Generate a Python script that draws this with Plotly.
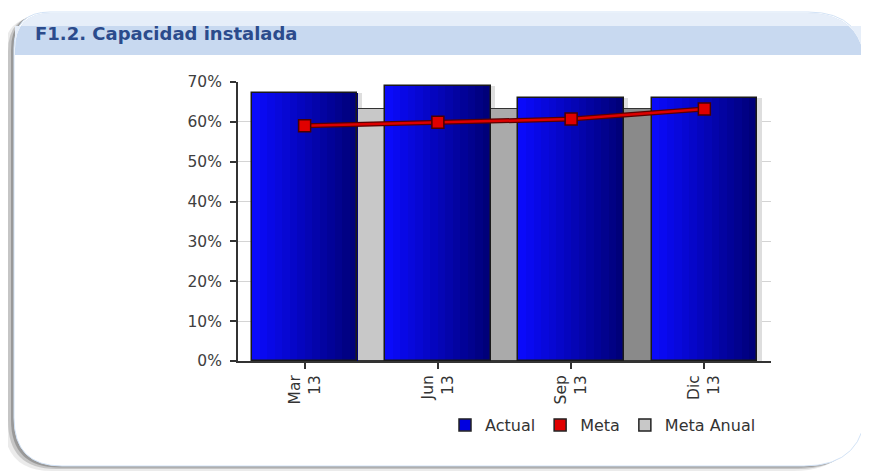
import plotly.graph_objects as go

# ---------------- data ----------------
categories = ["Mar<br>13", "Jun<br>13", "Sep<br>13", "Dic<br>13"]
actual = [0.672, 0.690, 0.660, 0.660]
meta = [0.590, 0.599, 0.607, 0.632]
meta_anual = [0.632, 0.632, 0.632]
meta_anual_colors = ["#c8c8c8", "#aaaaaa", "#8a8a8a"]
y_ticks = [0, 0.1, 0.2, 0.3, 0.4, 0.5, 0.6, 0.7]
title_text = "F1.2. Capacidad instalada"

# page body has an 8px margin: work in window pixels and shift
OFF = 8
W, H = 869 - OFF, 472 - OFF
L, R, T, B = 238 - OFF, 771 - OFF, 82 - OFF, 361 - OFF
xpos = list(range(len(categories)))


def px(x):
    return (x - OFF - L) / (R - L)


def py(y):
    return (B - (y - OFF)) / (B - T)


def rounded_path(x0, y0, x1, y1, rtl, rtr, rbr, rbl, dx=0, dy=0):
    x0 += dx; x1 += dx; y0 += dy; y1 += dy
    pts = []
    pts.append(f"M {px(x0)},{py(y0 + rtl)}")
    pts.append(f"Q {px(x0)},{py(y0)} {px(x0 + rtl)},{py(y0)}")
    pts.append(f"L {px(x1 - rtr)},{py(y0)}")
    pts.append(f"Q {px(x1)},{py(y0)} {px(x1)},{py(y0 + rtr)}")
    pts.append(f"L {px(x1)},{py(y1 - rbr)}")
    pts.append(f"Q {px(x1)},{py(y1)} {px(x1 - rbr)},{py(y1)}")
    pts.append(f"L {px(x0 + rbl)},{py(y1)}")
    pts.append(f"Q {px(x0)},{py(y1)} {px(x0)},{py(y1 - rbl)}")
    pts.append("Z")
    return " ".join(pts)


def top_path(x0, y0, x1, y1, rtl, rtr):
    pts = [f"M {px(x0)},{py(y1)}",
           f"L {px(x0)},{py(y0 + rtl)}",
           f"Q {px(x0)},{py(y0)} {px(x0 + rtl)},{py(y0)}",
           f"L {px(x1 - rtr)},{py(y0)}",
           f"Q {px(x1)},{py(y0)} {px(x1)},{py(y0 + rtr)}",
           f"L {px(x1)},{py(y1)}", "Z"]
    return " ".join(pts)


PX0, PY0, PX1, PY1 = 14, 12, 866, 466
RTL, RTR, RBR, RBL = 36, 58, 62, 48

shapes = [
    dict(type="path", xref="paper", yref="paper", layer="below",
         path=rounded_path(PX0, PY0, PX1, PY1, RTL, RTR, RBR, RBL, dx=-10, dy=5),
         fillcolor="rgba(0,0,0,0.08)", line=dict(width=0)),
    dict(type="path", xref="paper", yref="paper", layer="below",
         path=rounded_path(PX0, PY0, PX1, PY1, RTL, RTR, RBR, RBL, dx=-6, dy=3),
         fillcolor="rgba(0,0,0,0.16)", line=dict(width=0)),
    dict(type="path", xref="paper", yref="paper", layer="below",
         path=rounded_path(PX0, PY0, PX1, PY1, RTL, RTR, RBR, RBL, dx=-3, dy=1.5),
         fillcolor="rgba(0,0,0,0.22)", line=dict(width=0)),
    dict(type="path", xref="paper", yref="paper", layer="below",
         path=rounded_path(PX0, PY0, PX1, PY1, RTL, RTR, RBR, RBL),
         fillcolor="white", line=dict(color="#d3e3f6", width=1)),
    dict(type="path", xref="paper", yref="paper", layer="below",
         path=top_path(PX0 + 1, PY0 + 1, PX1 - 1, 55, RTL, RTR),
         fillcolor="#c8d9f0", line=dict(width=0)),
    dict(type="path", xref="paper", yref="paper", layer="below",
         path=top_path(PX0 + 1, PY0 + 1, PX1 - 1, 26, RTL, RTR),
         fillcolor="#e6eef9", line=dict(width=0)),
]

fig = go.Figure()

# shadow of Actual bars
fig.add_trace(go.Bar(x=xpos, y=actual, width=0.79, offset=-0.395 + 0.035,
                     marker=dict(color="#dedede", line=dict(width=0)),
                     showlegend=False, hoverinfo="skip"))

# Meta Anual bars (behind, between categories)
fig.add_trace(go.Bar(x=xpos[:len(meta_anual)], y=meta_anual, width=0.24, offset=0.38,
                     marker=dict(color=meta_anual_colors, line=dict(color="#333333", width=1)),
                     showlegend=False, name="Meta Anual"))

# Actual bars with horizontal gradient (slices)
N = 14
bw = 0.79
c0 = (10, 10, 250)
c1 = (0, 0, 122)
for i in range(N):
    t = i / (N - 1)
    col = "rgb(%d,%d,%d)" % tuple(round(c0[k] + (c1[k] - c0[k]) * t) for k in range(3))
    fig.add_trace(go.Bar(x=xpos, y=actual, width=bw / N + 0.002, offset=-bw / 2 + i * bw / N,
                         marker=dict(color=col, line=dict(width=0)),
                         showlegend=False, hoverinfo="skip"))
# outline
fig.add_trace(go.Bar(x=xpos, y=actual, width=bw, offset=-bw / 2,
                     marker=dict(color="rgba(0,0,0,0)", line=dict(color="#1a1a1a", width=1.5)),
                     showlegend=False, name="Actual"))

# Meta line (dark outline under red line)
fig.add_trace(go.Scatter(x=xpos, y=meta, mode="lines",
                         line=dict(color="#5a0000", width=5), showlegend=False, hoverinfo="skip"))
fig.add_trace(go.Scatter(x=xpos, y=meta, mode="lines+markers",
                         line=dict(color="#dd0000", width=2.5),
                         marker=dict(symbol="square", size=12, color="#e00000",
                                     line=dict(color="#4a0000", width=1.5)),
                         showlegend=False, name="Meta"))

# legend entries
for nm, col in [("Actual", "#0000e0"), ("Meta", "#e00000"), ("Meta Anual", "#c8c8c8")]:
    fig.add_trace(go.Bar(x=[None], y=[None], name=nm,
                         marker=dict(color=col, line=dict(color="#222222", width=1.5))))

fig.update_layout(
    width=W, height=H, autosize=False,
    margin=dict(l=L, r=W - R, t=T, b=H - B, pad=0),
    paper_bgcolor="white", plot_bgcolor="rgba(0,0,0,0)",
    barmode="overlay", bargap=0,
    font=dict(family="DejaVu Sans", size=14, color="#404040"),
    shapes=shapes,
    showlegend=True,
    legend=dict(orientation="h", x=px(445), xanchor="left", y=py(425), yanchor="middle",
                font=dict(size=16, color="#333333"), bgcolor="rgba(0,0,0,0)",
                itemwidth=30, traceorder="normal"),
    annotations=[dict(text=f"<b>{title_text}</b>", xref="paper", yref="paper",
                      x=px(33), y=py(34), xanchor="left", yanchor="middle", showarrow=False,
                      font=dict(family="DejaVu Sans", size=18, color="#2b4b8c"))],
)

fig.update_xaxes(range=[-0.5, 3.5], tickvals=xpos, ticktext=categories, tickangle=-90,
                 showline=True, linecolor="#333333", linewidth=2,
                 ticks="outside", ticklen=6, tickcolor="#333333", tickwidth=1.5,
                 showgrid=False, zeroline=False,
                 tickfont=dict(size=15.5, color="#333333"), fixedrange=True)
fig.update_yaxes(range=[0, 0.7], tickvals=y_ticks, tickformat=".0%",
                 showline=True, linecolor="#333333", linewidth=2,
                 ticks="outside", ticklen=6, tickcolor="#333333", tickwidth=1.5,
                 ticklabelstandoff=5,
                 showgrid=True, gridcolor="#d4d4d4", gridwidth=1, zeroline=False,
                 tickfont=dict(size=15.5, color="#404040"), fixedrange=True)

fig.write_html("out.html")
